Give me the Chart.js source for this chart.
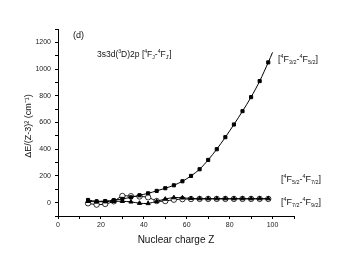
<!DOCTYPE html>
<html>
<head>
<meta charset="utf-8">
<script src="https://cdn.jsdelivr.net/npm/chart.js@4"></script>
<style>
  html, body { margin: 0; padding: 0; background: #fff; }
  #c { display: block; }
</style>
</head>
<body>
<canvas id="c" width="342" height="262"></canvas>
<script>
// nuclear charge Z for every marker
const zVals = [14, 18, 22, 26, 30, 34, 38, 42, 46, 50, 54, 58, 62, 66, 70, 74, 78, 82, 86, 90, 94, 98];
// [4F3/2-4F5/2] filled squares
const f32f52 = [20, 10, 12, 18, 28, 40, 55, 70, 88, 108, 130, 160, 200, 250, 320, 400, 490, 585, 685, 790, 910, 1050];
// curve keeps going a little after the last square
const f32f52TailZ = 100;
const f32f52Tail = 1125;
// [4F5/2-4F7/2] open circles
const f52f72 = [-5, -15, -10, 10, 50, 48, 46, 40, 12, 12, 22, 26, 27, 28, 28, 28, 28, 28, 28, 28, 28, 28];
// [4F7/2-4F9/2] filled triangles
const f72f92 = [10, 6, 8, 10, 10, 6, -4, -6, 10, 27, 38, 36, 32, 30, 30, 30, 30, 30, 30, 30, 30, 30];

const xTickLabels = [0, 20, 40, 60, 80, 100];
const yTickLabels = [0, 200, 400, 600, 800, 1000, 1200];

const pts = (ys) => zVals.map((z, i) => ({ x: z, y: ys[i] }));
const squarePts = pts(f32f52).concat([{ x: f32f52TailZ, y: f32f52Tail }]);
const squareRadius = zVals.map(() => 2.2).concat([0]);

// draws text made of normal / superscript / subscript pieces
function drawRich(ctx, x, y, segs, size) {
  let cx = x;
  for (const [t, m] of segs) {
    const s = m ? size * 0.6 : size;
    const dy = m === "^" ? -size * 0.42 : m === "_" ? size * 0.25 : 0;
    ctx.font = s + "px 'Liberation Sans', Arial, sans-serif";
    ctx.fillText(t, cx, y + dy);
    cx += ctx.measureText(t).width;
  }
}

const labels = {
  id: "labels",
  afterDraw(chart) {
    const ctx = chart.ctx;
    ctx.save();
    ctx.fillStyle = "#111";
    ctx.textBaseline = "alphabetic";
    ctx.textAlign = "left";
    drawRich(ctx, 73, 38, [["(d)", ""]], 9);
    drawRich(ctx, 97, 57, [["3s3d(", ""], ["3", "^"], ["D)2p [", ""], ["4", "^"], ["F", ""], ["J", "_"], ["-", ""], ["4", "^"], ["F", ""], ["J'", "_"], ["]", ""]], 8.5);
    drawRich(ctx, 278, 62, [["[", ""], ["4", "^"], ["F", ""], ["3/2", "_"], ["-", ""], ["4", "^"], ["F", ""], ["5/2", "_"], ["]", ""]], 9);
    drawRich(ctx, 281, 182, [["[", ""], ["4", "^"], ["F", ""], ["5/2", "_"], ["-", ""], ["4", "^"], ["F", ""], ["7/2", "_"], ["]", ""]], 9);
    drawRich(ctx, 281, 205, [["[", ""], ["4", "^"], ["F", ""], ["7/2", "_"], ["-", ""], ["4", "^"], ["F", ""], ["9/2", "_"], ["]", ""]], 9);
    // axis titles
    ctx.textAlign = "center";
    ctx.font = "10px 'Liberation Sans', Arial, sans-serif";
    ctx.fillText("Nuclear charge Z", 176, 243);
    ctx.translate(31, 126);
    ctx.rotate(-Math.PI / 2);
    ctx.font = "9px 'Liberation Sans', Arial, sans-serif";
    ctx.fillText("\u0394E/(Z-3)\u00B2 (cm\u207B\u00B9)", 0, 0);
    ctx.restore();
  }
};

new Chart(document.getElementById("c"), {
  type: "line",
  data: {
    datasets: [
      {
        label: "[4F3/2-4F5/2]",
        data: squarePts,
        order: 1,
        borderColor: "#000",
        backgroundColor: "#000",
        borderWidth: 1,
        pointStyle: "rect",
        pointRadius: squareRadius,
        tension: 0.3,
        fill: false,
      },
      {
        label: "[4F5/2-4F7/2]",
        data: pts(f52f72),
        order: 3,
        borderColor: "#000",
        backgroundColor: "#fff",
        borderWidth: 1,
        pointStyle: "circle",
        pointRadius: 2.7,
        pointBorderWidth: 0.8,
        tension: 0.3,
        fill: false,
      },
      {
        label: "[4F7/2-4F9/2]",
        data: pts(f72f92),
        order: 2,
        borderColor: "#000",
        backgroundColor: "#000",
        borderWidth: 1,
        pointStyle: "triangle",
        pointRadius: 2.4,
        tension: 0.3,
        fill: false,
      },
    ],
  },
  options: {
    responsive: false,
    animation: false,
    layout: { padding: { top: 29, right: 48, left: 0, bottom: 0 } },
    plugins: { legend: { display: false }, tooltip: { enabled: false } },
    scales: {
      x: {
        type: "linear",
        min: 0,
        max: 110,
        afterFit: (s) => { s.height = 46; },
        border: { color: "#000", width: 1 },
        grid: { drawOnChartArea: false, drawTicks: true, tickLength: 3, color: "#000" },
        ticks: {
          stepSize: 10,
          autoSkip: false,
          maxRotation: 0,
          padding: 2,
          color: "#222",
          font: { size: 7, family: "'Liberation Sans', Arial, sans-serif" },
          callback: (v) => (xTickLabels.includes(v) ? String(v) : ""),
        },
      },
      y: {
        min: -100,
        max: 1300,
        afterFit: (s) => { s.width = 58; },
        border: { color: "#000", width: 1 },
        grid: { drawOnChartArea: false, drawTicks: true, tickLength: 3, color: "#000" },
        ticks: {
          stepSize: 100,
          autoSkip: false,
          padding: 4,
          color: "#222",
          font: { size: 7, family: "'Liberation Sans', Arial, sans-serif" },
          callback: (v) => (yTickLabels.includes(v) ? String(v) : ""),
        },
      },
    },
  },
  plugins: [labels],
});
</script>
</body>
</html>
